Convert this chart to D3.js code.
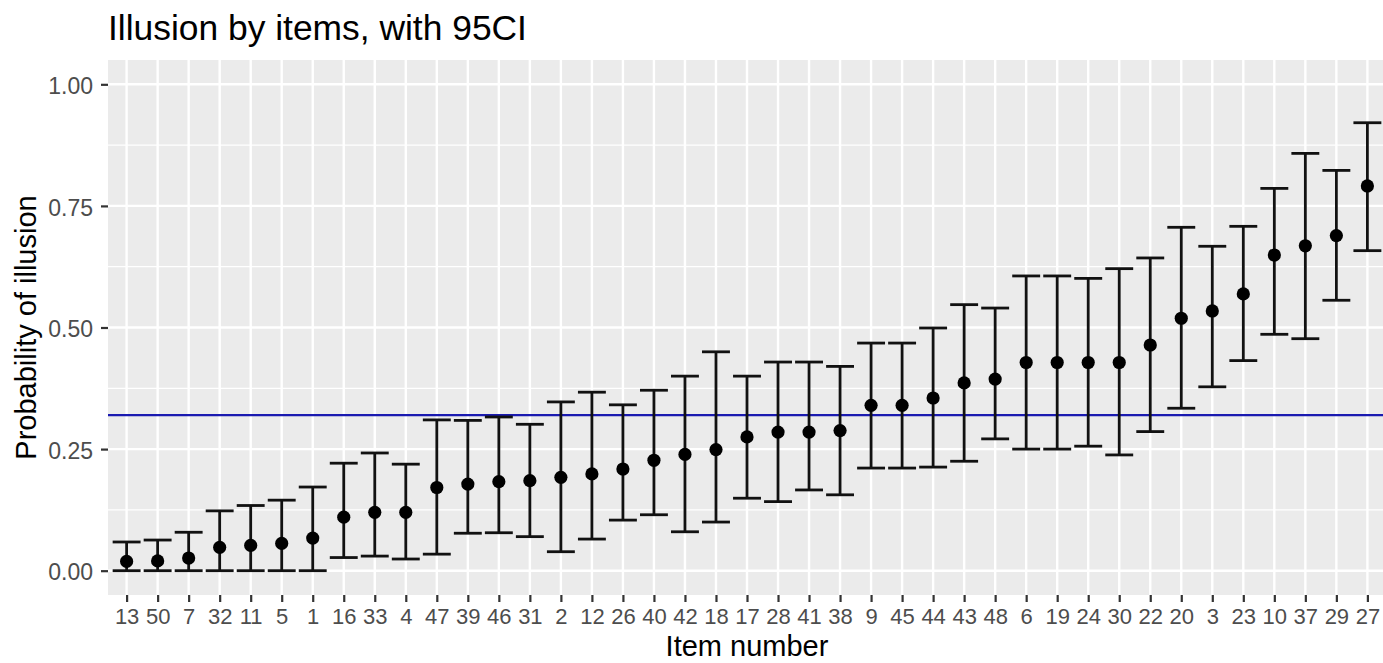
<!DOCTYPE html>
<html>
<head>
<meta charset="utf-8">
<script src="https://cdn.jsdelivr.net/npm/d3@7"></script>
<style>
  html, body { margin: 0; padding: 0; background: #ffffff; }
  svg { display: block; font-family: "Liberation Sans", Arial, Helvetica, sans-serif; }
</style>
</head>
<body>
<svg id="chart" width="1383" height="663"></svg>
<script>
// ---- data ----
const items = ["13","50","7","32","11","5","1","16","33","4","47","39","46","31","2","12","26","40","42","18","17","28","41","38","9","45","44","43","48","6","19","24","30","22","20","3","23","10","37","29","27"];
const prob  = [0.019,0.020,0.026,0.048,0.052,0.056,0.067,0.110,0.120,0.120,0.171,0.178,0.183,0.185,0.192,0.199,0.209,0.227,0.239,0.249,0.275,0.285,0.285,0.288,0.340,0.340,0.355,0.386,0.394,0.428,0.428,0.428,0.428,0.464,0.519,0.534,0.569,0.649,0.668,0.689,0.791];
const lower = [0,0,0,0,0,0,0,0.027,0.030,0.024,0.034,0.077,0.078,0.070,0.039,0.065,0.104,0.115,0.080,0.100,0.149,0.142,0.166,0.156,0.211,0.211,0.213,0.225,0.271,0.250,0.250,0.256,0.238,0.286,0.334,0.378,0.432,0.486,0.477,0.556,0.658];
const upper = [0.059,0.063,0.079,0.123,0.134,0.145,0.172,0.221,0.242,0.219,0.310,0.309,0.316,0.301,0.347,0.367,0.341,0.371,0.400,0.450,0.400,0.429,0.429,0.420,0.468,0.468,0.499,0.547,0.540,0.606,0.606,0.601,0.621,0.643,0.706,0.667,0.708,0.786,0.858,0.823,0.921];
const refLine = 0.32;
const yTicks = [0, 0.25, 0.5, 0.75, 1];
const yMinor = [0.125, 0.375, 0.625, 0.875];
const titleText = "Illusion by items, with 95CI";
const xTitle = "Item number";
const yTitle = "Probability of illusion";

const rows = items.map((it, i) => ({ item: it, p: prob[i], lo: lower[i], hi: upper[i] }));

// ---- layout ----
const svg = d3.select("#chart");
const pl = 108, pt = 60, pb = 595, pr = 1386;

const x = d3.scalePoint().domain(items).range([pl, pr]).padding(0.6);
const y = d3.scaleLinear().domain([-0.05, 1.05]).range([pb, pt]);
const step = x.step();

// panel
svg.append("rect").attr("x", pl).attr("y", pt).attr("width", pr - pl).attr("height", pb - pt).attr("fill", "#EBEBEB");

// minor grid
svg.append("g").selectAll("line").data(yMinor).join("line")
  .attr("x1", pl).attr("x2", pr).attr("y1", d => y(d)).attr("y2", d => y(d))
  .attr("stroke", "#ffffff").attr("stroke-width", 1.2);
// major grid
svg.append("g").selectAll("line").data(yTicks).join("line")
  .attr("x1", pl).attr("x2", pr).attr("y1", d => y(d)).attr("y2", d => y(d))
  .attr("stroke", "#ffffff").attr("stroke-width", 2.4);
svg.append("g").selectAll("line").data(items).join("line")
  .attr("y1", pt).attr("y2", pb).attr("x1", d => x(d)).attr("x2", d => x(d))
  .attr("stroke", "#ffffff").attr("stroke-width", 2.4);

// axes
const yAxis = d3.axisLeft(y).tickValues(yTicks).tickFormat(d3.format(".2f")).tickSize(7).tickPadding(8);
const gy = svg.append("g").attr("transform", `translate(${pl},0)`).call(yAxis);
gy.select(".domain").remove();
gy.selectAll(".tick line").attr("stroke", "#333333").attr("stroke-width", 2.2);
gy.selectAll(".tick text").attr("fill", "#4D4D4D").attr("font-size", 23).attr("dy", "0.4em")
  .attr("font-family", "Liberation Sans, Arial, sans-serif");

const xAxis = d3.axisBottom(x).tickSize(7).tickPadding(6);
const gx = svg.append("g").attr("transform", `translate(0,${pb})`).call(xAxis);
gx.select(".domain").remove();
gx.selectAll(".tick line").attr("stroke", "#333333").attr("stroke-width", 2.2);
gx.selectAll(".tick text").attr("fill", "#4D4D4D").attr("font-size", 22)
  .attr("font-family", "Liberation Sans, Arial, sans-serif");

// reference line
svg.append("line").attr("x1", pl).attr("x2", pr).attr("y1", y(refLine)).attr("y2", y(refLine))
  .attr("stroke", "#1a1aB0").attr("stroke-width", 2.2);

// error bars
const eb = svg.append("g").attr("stroke", "#111111").attr("stroke-width", 2.8);
const capW = step * 0.9;
eb.selectAll("line.v").data(rows).join("line").attr("class", "v")
  .attr("x1", d => x(d.item)).attr("x2", d => x(d.item))
  .attr("y1", d => y(d.lo)).attr("y2", d => y(d.hi));
eb.selectAll("line.t").data(rows).join("line").attr("class", "t")
  .attr("x1", d => x(d.item) - capW / 2).attr("x2", d => x(d.item) + capW / 2)
  .attr("y1", d => y(d.hi)).attr("y2", d => y(d.hi));
eb.selectAll("line.b").data(rows).join("line").attr("class", "b")
  .attr("x1", d => x(d.item) - capW / 2).attr("x2", d => x(d.item) + capW / 2)
  .attr("y1", d => y(d.lo)).attr("y2", d => y(d.lo));

// points
svg.append("g").selectAll("circle").data(rows).join("circle")
  .attr("cx", d => x(d.item)).attr("cy", d => y(d.p)).attr("r", 6.6).attr("fill", "#000000");

// titles
svg.append("text").attr("x", pl).attr("y", 40).attr("font-size", 35.4).attr("fill", "#000000").text(titleText);
svg.append("text").attr("x", (pl + pr) / 2).attr("y", 656).attr("text-anchor", "middle")
  .attr("font-size", 29).attr("fill", "#000000").text(xTitle);
svg.append("text").attr("transform", `translate(36,${(pt + pb) / 2}) rotate(-90)`).attr("text-anchor", "middle")
  .attr("font-size", 29).attr("fill", "#000000").text(yTitle);
</script>
</body>
</html>
